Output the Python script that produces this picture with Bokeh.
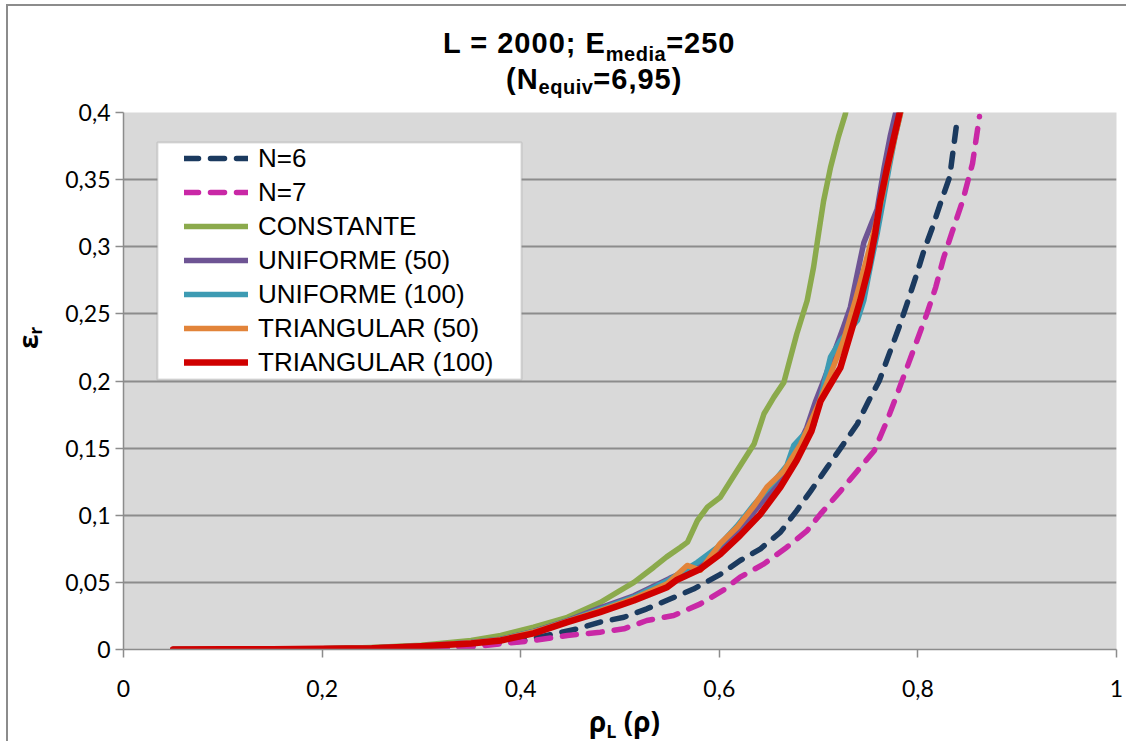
from bokeh.plotting import figure
from bokeh.layouts import column, row
from bokeh.models import (Range1d, FixedTicker, CustomJSTickFormatter, Div,
                          Legend, LegendItem, BoxAnnotation)
from bokeh.embed import file_html
from bokeh.resources import INLINE

# ---------------- data ----------------
x_ticks = [0, 0.2, 0.4, 0.6, 0.8, 1.0]
y_ticks = [0, 0.05, 0.1, 0.15, 0.2, 0.25, 0.3, 0.35, 0.4]

n6_x = [0.05, 0.1, 0.15, 0.2, 0.25, 0.3, 0.35, 0.4, 0.457, 0.48, 0.504, 0.527, 0.551, 0.574,
        0.601, 0.621, 0.6415, 0.6616, 0.678, 0.692, 0.709, 0.725, 0.739, 0.7506, 0.761, 0.771,
        0.781, 0.789, 0.799, 0.806, 0.814, 0.823, 0.832, 0.84]
n6_y = [0, 0, 0.0001, 0.0003, 0.0006, 0.0012, 0.0028, 0.0062, 0.0154, 0.0204, 0.024, 0.0303,
        0.0378, 0.045, 0.056, 0.0663, 0.075, 0.0874, 0.1035, 0.118, 0.136, 0.153, 0.168, 0.1855,
        0.2, 0.22, 0.24, 0.2575, 0.28, 0.297, 0.313, 0.333, 0.352, 0.397]

n7_x = [0.05, 0.1, 0.15, 0.2, 0.25, 0.3, 0.35, 0.38, 0.413, 0.447, 0.48, 0.504, 0.527, 0.554,
        0.581, 0.6045, 0.621, 0.645, 0.668, 0.6885, 0.702, 0.722, 0.739, 0.756, 0.769, 0.779,
        0.789, 0.799, 0.809, 0.818, 0.826, 0.8345, 0.845, 0.855, 0.862]
n7_y = [0, 0, 0, 0.0001, 0.0003, 0.0007, 0.0018, 0.0042, 0.0067, 0.0104, 0.0129, 0.0154, 0.0216,
        0.0253, 0.034, 0.0445, 0.0539, 0.0638, 0.0762, 0.0886, 0.101, 0.118, 0.133, 0.148,
        0.1706, 0.19, 0.21, 0.23, 0.25, 0.27, 0.292, 0.311, 0.334, 0.362, 0.397]

const_x = [0.05, 0.1, 0.15, 0.2, 0.25, 0.3, 0.35, 0.38, 0.413, 0.447, 0.48, 0.5, 0.514, 0.534,
           0.547, 0.561, 0.568, 0.578, 0.588, 0.601, 0.618, 0.635, 0.645, 0.655, 0.665, 0.678,
           0.6885, 0.695, 0.7, 0.705, 0.712, 0.72, 0.727, 0.735]
const_y = [0, 0.0001, 0.0002, 0.0006, 0.0015, 0.0032, 0.0068, 0.0105, 0.0166, 0.024, 0.035,
           0.0439, 0.05, 0.0613, 0.069, 0.0762, 0.08, 0.0961, 0.106, 0.1134, 0.1333, 0.153,
           0.1756, 0.188, 0.199, 0.235, 0.26, 0.285, 0.31, 0.334, 0.359, 0.382, 0.399, 0.43]

unif50_x = [0.05, 0.1, 0.15, 0.2, 0.25, 0.3, 0.35, 0.38, 0.413, 0.447, 0.48, 0.514, 0.55, 0.565,
            0.58, 0.6, 0.62, 0.64, 0.66, 0.675, 0.688, 0.697, 0.705, 0.715, 0.725, 0.732, 0.739,
            0.7455, 0.752, 0.759, 0.766, 0.772, 0.778, 0.785]
unif50_y = [0, 0.0001, 0.0002, 0.0005, 0.0011, 0.0027, 0.0052, 0.0076, 0.0135, 0.0215, 0.031,
            0.04, 0.053, 0.058, 0.064, 0.076, 0.089, 0.107, 0.125, 0.145, 0.165, 0.185, 0.2,
            0.22, 0.24, 0.255, 0.28, 0.303, 0.315, 0.328, 0.359, 0.382, 0.401, 0.44]

unif100_x = [0.05, 0.1, 0.15, 0.2, 0.25, 0.3, 0.35, 0.38, 0.413, 0.447, 0.48, 0.514, 0.55, 0.578,
             0.598, 0.618, 0.635, 0.655, 0.668, 0.675, 0.685, 0.695, 0.703, 0.712, 0.722, 0.739,
             0.7455, 0.752, 0.759, 0.765, 0.771, 0.777, 0.783, 0.79]
unif100_y = [0, 0.0001, 0.0002, 0.0005, 0.0011, 0.0026, 0.005, 0.0074, 0.0132, 0.021, 0.03,
             0.039, 0.052, 0.065, 0.076, 0.092, 0.108, 0.125, 0.137, 0.152, 0.16, 0.167, 0.19,
             0.218, 0.23, 0.245, 0.26, 0.285, 0.31, 0.334, 0.359, 0.382, 0.401, 0.44]

tri50_x = [0.05, 0.1, 0.15, 0.2, 0.25, 0.3, 0.35, 0.38, 0.413, 0.447, 0.48, 0.514, 0.5475, 0.5676,
           0.581, 0.601, 0.618, 0.635, 0.648, 0.665, 0.682, 0.7, 0.712, 0.725, 0.737, 0.748,
           0.757, 0.763, 0.77, 0.777, 0.783, 0.79]
tri50_y = [0, 0.0001, 0.0002, 0.0005, 0.0011, 0.0026, 0.005, 0.0072, 0.013, 0.021, 0.029, 0.038,
           0.049, 0.0626, 0.059, 0.079, 0.091, 0.107, 0.121, 0.133, 0.153, 0.183, 0.205, 0.23,
           0.26, 0.29, 0.315, 0.334, 0.359, 0.382, 0.401, 0.44]

tri100_x = [0.05, 0.1, 0.15, 0.2, 0.25, 0.3, 0.35, 0.38, 0.413, 0.447, 0.48, 0.514, 0.5475,
            0.5576, 0.581, 0.601, 0.621, 0.6415, 0.6616, 0.678, 0.693, 0.702, 0.71, 0.722, 0.732,
            0.742, 0.7506, 0.757, 0.762, 0.769, 0.776, 0.782, 0.79]
tri100_y = [0, 0.0001, 0.0002, 0.0005, 0.001, 0.0024, 0.0045, 0.0067, 0.012, 0.0204, 0.0278,
            0.0365, 0.0464, 0.052, 0.06, 0.071, 0.085, 0.101, 0.121, 0.141, 0.163, 0.185, 0.195,
            0.21, 0.235, 0.26, 0.285, 0.31, 0.334, 0.359, 0.382, 0.401, 0.44]

series_names = ["N=6", "N=7", "CONSTANTE", "UNIFORME (50)", "UNIFORME (100)",
                "TRIANGULAR (50)", "TRIANGULAR (100)"]
series_x = [n6_x, n7_x, const_x, unif50_x, unif100_x, tri50_x, tri100_x]
series_y = [n6_y, n7_y, const_y, unif50_y, unif100_y, tri50_y, tri100_y]
series_colors = ["#1B3A5F", "#C928A6", "#8BAA4C", "#6E5494", "#3D9BB3", "#E2843A", "#D00000"]
series_dash = ["14 12", "14 12", "solid", "solid", "solid", "solid", "solid"]
series_width = [5.5, 5.5, 5.5, 5.5, 5.5, 5.5, 6.5]

title_line1 = ("L = 2000; E", "media", "=250")
title_line2 = ("(N", "equiv", "=6,95)")
ylabel_parts = ("ε", "r")
xlabel_parts = ("ρ", "L", " (ρ)")

# ---------------- figure ----------------
p = figure(frame_width=993, frame_height=537,
           min_border_left=66, min_border_right=10, min_border_top=14, min_border_bottom=52,
           x_range=Range1d(0, 1), y_range=Range1d(0, 0.4),
           output_backend="svg", toolbar_location=None,
           background_fill_color="#D9D9D9", border_fill_color="white",
           outline_line_color=None, margin=0)

fmt = CustomJSTickFormatter(code="return tick.toString().replace('.', ',');")

p.xaxis.ticker = FixedTicker(ticks=x_ticks)
p.yaxis.ticker = FixedTicker(ticks=y_ticks)
for ax in (p.xaxis[0], p.yaxis[0]):
    ax.formatter = fmt
    ax.axis_line_color = "#8C8C8C"
    ax.axis_line_width = 1.5
    ax.major_tick_line_color = "#8C8C8C"
    ax.major_tick_line_width = 1.5
    ax.major_tick_in = 0
    ax.major_tick_out = 8
    ax.minor_tick_line_color = None
    ax.major_label_text_font = "Lato"
    ax.major_label_text_font_size = "23px"
    ax.major_label_text_color = "#000000"
p.yaxis.major_label_standoff = 5
p.xaxis.major_label_standoff = 22

p.xgrid.grid_line_color = None
p.ygrid.grid_line_color = "#8C8C8C"
p.ygrid.grid_line_width = 2

# legend background box
box = BoxAnnotation(left=0.0342, right=0.4008, bottom=0.2011, top=0.3777,
                    fill_color="white", fill_alpha=1.0,
                    line_color="#8C8C8C", line_width=2)
p.add_layout(box)

items = []
for name, xs, ys, c, d, w in zip(series_names, series_x, series_y, series_colors,
                                 series_dash, series_width):
    r = p.line(xs, ys, line_color=c, line_width=w, line_dash=d,
               line_cap="round", line_join="round")
    items.append(LegendItem(label=name, renderers=[r]))

legend = Legend(items=items, location=(61, 270), padding=0, margin=0, spacing=0,
                glyph_width=64, glyph_height=34, label_height=34, label_standoff=10,
                label_text_font="Liberation Sans", label_text_font_size="26px",
                label_text_color="#000000",
                background_fill_alpha=0, border_line_alpha=0)
p.add_layout(legend)

# ---------------- text blocks (real HTML text) ----------------
CONTENT_W = 1118
TITLE_H = 92

t1a, t1b, t1c = title_line1
t2a, t2b, t2c = title_line2
title_html = (
    f'<div style="position:relative;width:{CONTENT_W}px;height:{TITLE_H}px;'
    "font-family:'Liberation Sans',Arial,sans-serif;font-weight:bold;color:#000;\">"
    '<div style="position:absolute;left:435px;top:20px;font-size:29px;line-height:34px;'
    'letter-spacing:1px;white-space:nowrap;">'
    f'{t1a}<span style="font-size:20px;position:relative;top:8px;letter-spacing:0.5px;">{t1b}</span>{t1c}</div>'
    '<div style="position:absolute;left:498px;top:56px;font-size:29px;line-height:34px;'
    'letter-spacing:1px;white-space:nowrap;">'
    f'{t2a}<span style="font-size:20px;position:relative;top:5px;letter-spacing:0.5px;">{t2b}</span>{t2c}</div>'
    '</div>')
title_div = Div(text=title_html, width=CONTENT_W, height=TITLE_H, margin=0)

ya, yb = ylabel_parts
ylab_html = (
    '<div style="position:relative;width:49px;height:603px;">'
    '<div style="position:absolute;left:30px;top:226px;line-height:30px;white-space:nowrap;'
    "font-family:'Open Sans',sans-serif;font-weight:bold;font-size:26px;color:#000;"
    'transform-origin:0px 25px;transform:rotate(-90deg);">'
    f'{ya}<span style="font-size:17px;position:relative;top:4px;">{yb}</span></div>'
    '</div>')
ylab_div = Div(text=ylab_html, width=49, height=603, margin=0)

xa, xb, xc = xlabel_parts
xlab_html = (
    f'<div style="position:relative;width:{CONTENT_W}px;height:40px;">'
    '<div style="position:absolute;left:581px;top:3px;line-height:34px;white-space:pre;'
    "font-family:'Open Sans',sans-serif;font-weight:bold;font-size:28px;color:#000;\">"
    f'{xa}<span style="font-size:18px;position:relative;top:6px;">{xb}</span>{xc}</div>'
    '</div>')
xlab_div = Div(text=xlab_html, width=CONTENT_W, height=40, margin=0)

inner = column(title_div, row(ylab_div, p, spacing=0, margin=0), xlab_div,
               spacing=0, margin=0,
               styles={"border-top": "2px solid #8C8C8C",
                       "border-left": "2px solid #8C8C8C",
                       "background-color": "white"})
layout = column(inner, spacing=0, margin=0,
                styles={"padding-left": "6px", "padding-top": "4px",
                        "background-color": "white"})

open("out.html", "w").write(file_html(layout, INLINE))
